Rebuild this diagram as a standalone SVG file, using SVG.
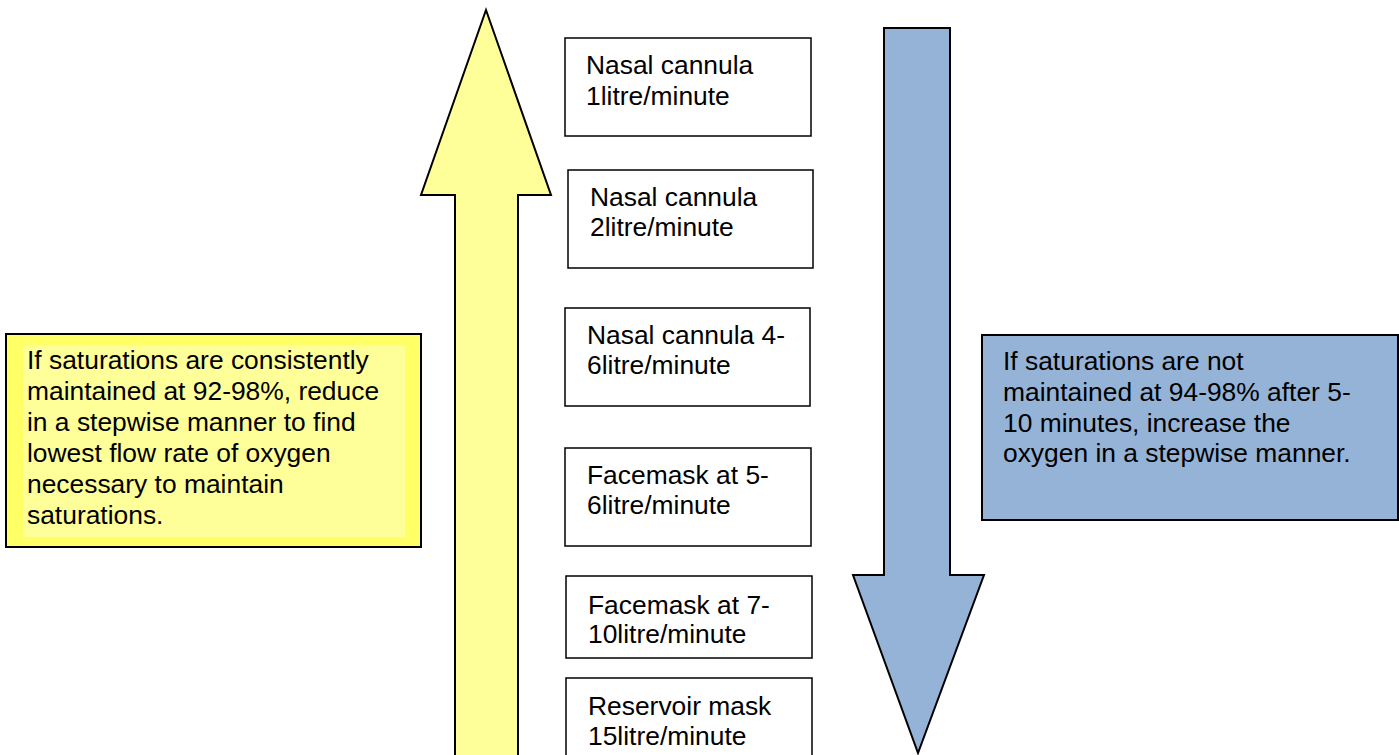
<svg xmlns="http://www.w3.org/2000/svg" width="1399" height="755" viewBox="0 0 1399 755">
<style>
text{font-family:"Liberation Sans",Arial,sans-serif;font-size:26.4px;fill:#000}
.box{fill:#fff;stroke:#000;stroke-width:1.5}
.arrow{stroke:#000;stroke-width:2;stroke-linejoin:miter}
</style>
<rect width="1399" height="755" fill="#fff"/>
<g id="connectors">
<polygon id="up-arrow" class="arrow" fill="#FFFF99" points="486,10 551,195 518,195 518,760 455,760 455,195 421,195"/>
<polygon id="down-arrow" class="arrow" fill="#95B3D7" points="884,28 950,28 950,575 984,575 918,753 853,575 884,575"/>
</g>
<g id="note-reduce">
<rect x="6" y="334" width="415" height="213" fill="#FFFF66" stroke="#000" stroke-width="2"/>
<rect x="23" y="345" width="382" height="192" fill="#FFFF99"/>
<text x="27" y="369">If saturations are consistently</text>
<text x="27" y="400">maintained at 92-98%, reduce</text>
<text x="27" y="431">in a stepwise manner to find</text>
<text x="27" y="462">lowest flow rate of oxygen</text>
<text x="27" y="493">necessary to maintain</text>
<text x="27" y="524">saturations.</text>
</g>
<g id="note-increase">
<rect x="982" y="335" width="416" height="185" fill="#95B3D7" stroke="#000" stroke-width="2"/>
<text x="1003" y="370">If saturations are not</text>
<text x="1003" y="401">maintained at 94-98% after 5-</text>
<text x="1003" y="432">10 minutes, increase the</text>
<text x="1003" y="462">oxygen in a stepwise manner.</text>
</g>
<g id="step1">
<rect class="box" x="565" y="38" width="246" height="98"/>
<text x="586" y="74">Nasal cannula</text>
<text x="586" y="105">1litre/minute</text>
</g>
<g id="step2">
<rect class="box" x="568" y="170" width="245" height="98"/>
<text x="590" y="206">Nasal cannula</text>
<text x="590" y="236">2litre/minute</text>
</g>
<g id="step3">
<rect class="box" x="565" y="308" width="245" height="98"/>
<text x="587" y="344">Nasal cannula 4-</text>
<text x="587" y="374">6litre/minute</text>
</g>
<g id="step4">
<rect class="box" x="565" y="448" width="246" height="98"/>
<text x="587" y="484">Facemask at 5-</text>
<text x="587" y="514">6litre/minute</text>
</g>
<g id="step5">
<rect class="box" x="566" y="576" width="246" height="82"/>
<text x="588" y="614">Facemask at 7-</text>
<text x="588" y="643">10litre/minute</text>
</g>
<g id="step6">
<rect class="box" x="566" y="678" width="246" height="90"/>
<text x="588" y="715">Reservoir mask</text>
<text x="588" y="745">15litre/minute</text>
</g>
</svg>
